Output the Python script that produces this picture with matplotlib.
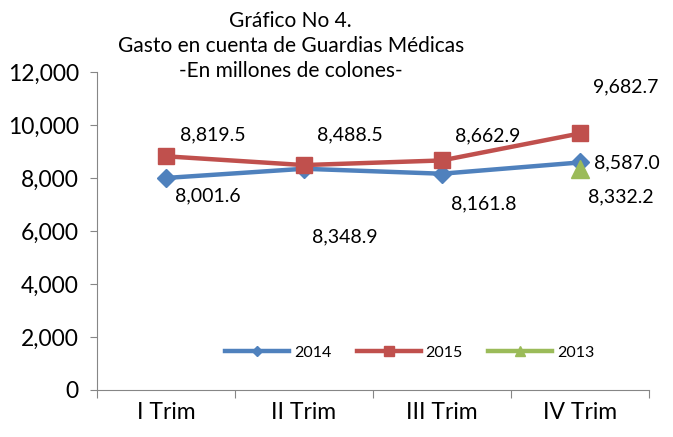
import matplotlib.pyplot as plt
from matplotlib.ticker import FuncFormatter

plt.rcParams['font.family'] = ['Lato', 'DejaVu Sans']

# data
trimestres = ['I Trim', 'II Trim', 'III Trim', 'IV Trim']
gasto_2014 = [8001.6, 8348.9, 8161.8, 8587.0]
gasto_2015 = [8819.5, 8488.5, 8662.9, 9682.7]
gasto_2013 = [8332.2]  # only IV Trim

x = [i + 0.5 for i in range(len(trimestres))]

fig = plt.figure(figsize=(6.73, 4.37), dpi=100)
ax = fig.add_axes([0.144, 0.108, 0.82, 0.727])

azul, rojo, verde = '#4F81BD', '#C0504D', '#9BBB59'

ax.plot(x, gasto_2014, color=azul, lw=3.2, marker='D', ms=9, label='2014')
ax.plot(x, gasto_2015, color=rojo, lw=3.2, marker='s', ms=11, label='2015')
ax.plot(x[3:], gasto_2013, color=verde, lw=3.2, marker='^', ms=13, label='2013')

# data labels (offsets in pixels)
off_2015 = [(47, 21), (46, 30), (46, 25), (46, 47)]
off_2014 = [(42, -18), (41, -68), (42, -30), (47, 0)]
for xi, v, o in zip(x, gasto_2015, off_2015):
    ax.annotate(f'{v:,.1f}', (xi, v), xytext=o, textcoords='offset pixels',
                ha='center', va='center', fontsize=14)
for xi, v, o in zip(x, gasto_2014, off_2014):
    ax.annotate(f'{v:,.1f}', (xi, v), xytext=o, textcoords='offset pixels',
                ha='center', va='center', fontsize=14)
ax.annotate(f'{gasto_2013[0]:,.1f}', (x[3], gasto_2013[0]), xytext=(41, -28),
            textcoords='offset pixels', ha='center', va='center', fontsize=14)

ax.set_xlim(0, 4)
ax.set_ylim(0, 12000)
ax.set_yticks(range(0, 12001, 2000))
ax.yaxis.set_major_formatter(FuncFormatter(lambda v, p: f'{v:,.0f}'))
ax.set_xticks(range(5))
ax.set_xticklabels([])
ax.set_xticks(x, minor=True)
ax.set_xticklabels(trimestres, minor=True)
ax.tick_params(axis='x', which='minor', length=0, labelsize=16.5, pad=9)
ax.tick_params(axis='x', which='major', length=6, color='#868686')
ax.tick_params(axis='y', length=5, color='#868686', labelsize=16.5, pad=8)

for s in ['top', 'right']:
    ax.spines[s].set_visible(False)
for s in ['left', 'bottom']:
    ax.spines[s].set_color('#868686')

ax.legend(loc='center', bbox_to_anchor=(0.567, 0.116), ncol=3, frameon=False,
          fontsize=11.5, handlelength=4.0, handletextpad=0.3, columnspacing=1.6,
          markerscale=0.6)

fig.text(0.432, 0.895, 'Gráfico No 4.\nGasto en cuenta de Guardias Médicas\n-En millones de colones-',
         ha='center', va='center', fontsize=15, linespacing=1.33)

fig.savefig('out.png', dpi=100)
